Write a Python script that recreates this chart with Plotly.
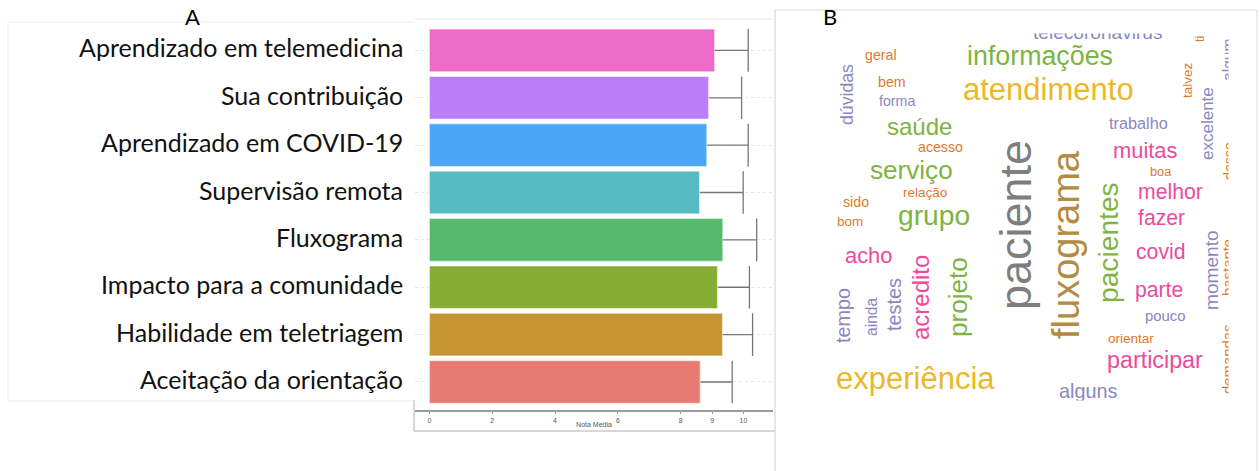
import plotly.graph_objects as go

# ---------------- Panel A data: mean score and SD per item ----------------
items = [
    "Aprendizado em telemedicina",
    "Sua contribuição",
    "Aprendizado em COVID-19",
    "Supervisão remota",
    "Fluxograma",
    "Impacto para a comunidade",
    "Habilidade em teletriagem",
    "Aceitação da orientação",
]
mean_score = [9.08, 8.89, 8.83, 8.60, 9.34, 9.17, 9.33, 8.62]
sd_score = [1.07, 1.05, 1.32, 1.39, 1.08, 1.02, 0.96, 1.02]
x_ticks = [0, 2, 4, 6, 8, 9, 10]

# ---------------- Panel B data: word frequencies ----------------
words = [
    "paciente", "fluxograma", "experiência", "atendimento", "pacientes", "grupo",
    "informações", "serviço", "projeto", "saúde", "acredito", "participar",
    "acho", "muitas", "melhor", "fazer", "covid", "parte", "testes", "tempo",
    "alguns", "momento", "dúvidas", "excelente", "trabalho", "ainda",
    "telecoronavirus", "pouco", "geral", "bem", "forma", "acesso", "sido",
    "relação", "bom", "orientar", "talvez", "algum", "desse", "bastante",
    "demandas", "boa", "ti",
]
word_freq = [
    50, 40, 30, 30, 26, 26,
    24, 23, 23, 20, 20, 19,
    17, 17, 16, 16, 16, 16, 14, 14,
    14, 13, 11, 10, 9, 8,
    13, 7, 6, 6, 6, 6, 6,
    5, 5, 5, 5, 8, 6, 7,
    7, 4, 4,
]

# ---------------- layout helpers ----------------
W, H = 1260, 471


def px(x):
    return x / W


def py(y):
    return 1 - y / H


def font_size(freq):
    return 10 + 0.7 * freq


def soften(hex_color, amount=0.16):
    r, g, b = (int(hex_color[i:i + 2], 16) for i in (1, 3, 5))
    mix = lambda v: round(v + (255 - v) * amount)
    return "#{:02X}{:02X}{:02X}".format(mix(r), mix(g), mix(b))


bar_colors = ["#EC6AC8", "#BA7FF8", "#4BA6F9", "#55BAC2",
              "#55BA6D", "#88AD35", "#C59532", "#E77B72"]

ypos = list(range(len(items)))

fig = go.Figure()

# error bars: drawn between two copies of the bars so only the upper arm shows
ex, ey = [], []
for i, (m, s) in enumerate(zip(mean_score, sd_score)):
    ex += [m - s, m + s, None, m + s, m + s, None]
    ey += [i, i, None, i - 0.45, i + 0.45, None]

bar_style = dict(color=bar_colors, line=dict(color="rgba(255,255,255,0.6)", width=1))
fig.add_trace(go.Bar(x=mean_score, y=ypos, orientation="h", width=0.9, marker=bar_style,
                     hoverinfo="skip", showlegend=False))
fig.add_trace(go.Scatter(x=ex, y=ey, mode="lines", line=dict(color="#767676", width=1.3),
                         hoverinfo="skip", showlegend=False))
fig.add_trace(go.Bar(x=mean_score, y=ypos, orientation="h", width=0.9, marker=bar_style,
                     hoverinfo="skip", showlegend=False, xaxis="x2", yaxis="y2"))

xdom = [px(415), px(773)]
ydom = [py(410.4), py(22)]
xr = [-0.46, 10.94]
yr = [len(items) - 1 + 0.6, -0.6]

fig.update_layout(
    width=W, height=H,
    margin=dict(l=0, r=0, t=0, b=0),
    paper_bgcolor="white", plot_bgcolor="rgba(0,0,0,0)",
    barmode="overlay",
    xaxis=dict(
        domain=xdom, range=xr, tickvals=x_ticks, ticktext=[str(v) for v in x_ticks],
        showgrid=False, zeroline=False, showline=True, linecolor="#9a9a9a", linewidth=1.5,
        ticks="outside", ticklen=2, tickcolor="#9a9a9a",
        tickfont=dict(family="Liberation Sans", size=7, color="#555"),
        title=dict(text="Nota Media", font=dict(family="Liberation Sans", size=7, color="#555"),
                   standoff=0),
    ),
    yaxis=dict(
        domain=ydom, range=yr, tickvals=ypos, showticklabels=False,
        showgrid=True, gridcolor="#e6e6e6", griddash="dot", gridwidth=1,
        zeroline=False, showline=False, ticks="",
    ),
    xaxis2=dict(domain=xdom, range=xr, overlaying="x", visible=False),
    yaxis2=dict(domain=ydom, range=yr, overlaying="y", visible=False),
)

# item labels, right aligned next to the bars
for i, name in enumerate(items):
    fig.add_annotation(text=name, x=px(405), y=i, xref="paper", yref="y",
                       showarrow=False, xanchor="right", yanchor="middle", yshift=3,
                       font=dict(family="Lato", size=25, color="#111"))

# ---------------- frame lines of the two panels ----------------
frame = [
    (8, 22, 415, 22, "#ececec"), (8, 22, 8, 401, "#ececec"), (8, 401, 415, 401, "#ececec"),
    (415, 19, 773, 19, "#e6e6e6"),
    (414, 400, 414, 431, "#b0b0b0"), (414, 431, 775, 431, "#b0b0b0"),
    (775, 10, 775, 471, "#d0d0d0"),
    (775, 10, 1257, 10, "#dcdcdc"), (1257, 10, 1257, 471, "#dcdcdc"),
]
for x0, y0, x1, y1, c in frame:
    fig.add_shape(type="line", xref="paper", yref="paper",
                  x0=px(x0), y0=py(y0), x1=px(x1), y1=py(y1),
                  line=dict(color=c, width=1))

# ---------------- Panel B: word cloud placement ----------------
dark2 = {
    "gray": "#666666", "brown": "#A6761D", "yellow": "#E6AB02", "green": "#66A61E",
    "pink": "#E7298A", "purple": "#7570B3", "orange": "#D95F02",
}
word_color = [
    "gray", "brown", "yellow", "yellow", "green", "green",
    "green", "green", "green", "green", "pink", "pink",
    "pink", "pink", "pink", "pink", "pink", "pink", "purple", "purple",
    "purple", "purple", "purple", "purple", "purple", "purple",
    "purple", "purple", "orange", "orange", "purple", "orange", "orange",
    "orange", "orange", "orange", "orange", "purple", "orange", "orange",
    "orange", "orange", "orange",
]
word_x = [
    1015, 1066, 915, 1048, 1108, 934,
    1040, 911, 958, 919, 920, 1155,
    868, 1145, 1170, 1161, 1160, 1159, 894, 843,
    1088, 1211, 847, 1208, 1138, 871,
    1097, 1165, 881, 892, 897, 940, 856,
    925, 850, 1131, 1188, 1229, 1229, 1228,
    1228, 1161, 1200,
]
word_y = [
    225, 245, 378, 90, 243, 215,
    56, 170, 297, 127, 298, 360,
    255, 151, 191, 217, 251, 290, 305, 315,
    391, 270, 95, 124, 123, 317,
    33, 316, 55, 82, 101, 147, 202,
    192, 221, 338, 80, 60, 161, 268,
    359, 172, 39,
]
word_angle = [
    -90, -90, 0, 0, -90, 0,
    0, 0, -90, 0, -90, 0,
    0, 0, 0, 0, 0, 0, -90, -90,
    0, -90, -90, -90, 0, -90,
    0, 0, 0, 0, 0, 0, 0,
    0, 0, 0, -90, -90, -90, -90,
    -90, 0, -90,
]

for w, f, c, x, y, a in zip(words, word_freq, word_color, word_x, word_y, word_angle):
    fig.add_annotation(text=w, x=px(x), y=py(y), xref="paper", yref="paper",
                       showarrow=False, xanchor="center", yanchor="middle",
                       textangle=a, borderpad=0,
                       font=dict(family="Liberation Sans", size=font_size(f),
                                 color=soften(dark2[c])))

# the cloud is cropped to its canvas: white masks over the words running off its edges
cloud_left, cloud_top, cloud_right, cloud_bottom = 780, 33, 1229, 401
masks = [
    (cloud_right, 12, 1255, 470),
    (cloud_left, 12, cloud_right, cloud_top),
    (cloud_left, cloud_bottom, cloud_right, 470),
]
for x0, y0, x1, y1 in masks:
    fig.add_annotation(text=" ", x=px((x0 + x1) / 2), y=py((y0 + y1) / 2),
                       xref="paper", yref="paper", showarrow=False,
                       xanchor="center", yanchor="middle", borderpad=0,
                       width=x1 - x0, height=y1 - y0, bgcolor="white")

# panel letters
for letter, lx, ly in [("A", 192, 17), ("B", 830, 17)]:
    fig.add_annotation(text=letter, x=px(lx), y=py(ly), xref="paper", yref="paper",
                       showarrow=False, xanchor="center", yanchor="middle",
                       font=dict(family="Lato", size=22, color="black"))

fig.write_html("out.html")
